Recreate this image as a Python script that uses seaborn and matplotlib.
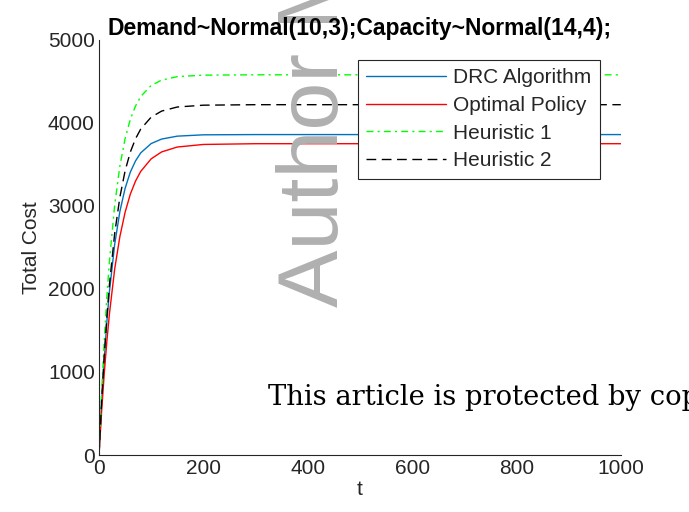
import numpy as np
import pandas as pd
import matplotlib
matplotlib.use("Agg")
import matplotlib.pyplot as plt
import seaborn as sns

# ---------------------------------------------------------------------------
# Data (total cost over time t)
# ---------------------------------------------------------------------------
t_values = [0, 5, 10, 15, 20, 30, 40, 50, 60, 70, 80, 100, 120, 150, 200,
            300, 400, 500, 600, 700, 800, 900, 1000]

drc_cost = [0, 633, 1158, 1602, 1969, 2536, 2934, 3212, 3408, 3543, 3640,
            3752, 3806, 3841, 3857, 3860, 3860, 3860, 3860, 3860, 3860, 3860, 3860]
optimal_cost = [0, 528, 978, 1368, 1702, 2239, 2632, 2924, 3142, 3300, 3417,
                3568, 3651, 3710, 3741, 3750, 3750, 3750, 3750, 3750, 3750, 3750, 3750]
heuristic1_cost = [0, 751, 1374, 1901, 2336, 3009, 3481, 3811, 4044, 4204, 4319,
                   4452, 4516, 4558, 4576, 4580, 4580, 4580, 4580, 4580, 4580, 4580, 4580]
heuristic2_cost = [0, 648, 1194, 1659, 2054, 2667, 3106, 3423, 3649, 3810, 3927,
                   4070, 4143, 4192, 4214, 4220, 4220, 4220, 4220, 4220, 4220, 4220, 4220]

methods = ["DRC Algorithm", "Optimal Policy", "Heuristic 1", "Heuristic 2"]
series = [drc_cost, optimal_cost, heuristic1_cost, heuristic2_cost]

x_ticks = [0, 200, 400, 600, 800, 1000]
y_ticks = [0, 1000, 2000, 3000, 4000, 5000]

title_text = "Demand~Normal(10,3);Capacity~Normal(14,4);"
watermark_text = "Author Manuscript"
notice_text = "This article is protected by copyright. All rights reserved."

# long-form table for seaborn
df = pd.concat([pd.DataFrame({"t": t_values, "Total Cost": vals, "Method": name})
                for name, vals in zip(methods, series)], ignore_index=True)

palette = {"DRC Algorithm": "#0072BD", "Optimal Policy": "#FF0000",
           "Heuristic 1": "#00FF00", "Heuristic 2": "#000000"}
dashes = {"DRC Algorithm": "", "Optimal Policy": "",
          "Heuristic 1": (5, 3, 1.5, 3), "Heuristic 2": (7, 4)}

# ---------------------------------------------------------------------------
# Plot
# ---------------------------------------------------------------------------
sns.set_style("white")
plt.rcParams['font.family'] = ['Liberation Sans', 'DejaVu Sans']

fig = plt.figure(figsize=(6.89, 5.12), dpi=100)
ax = fig.add_axes([0.1437, 0.1113, 0.7573, 0.8107])

sns.lineplot(data=df, x="t", y="Total Cost", hue="Method", style="Method",
             hue_order=methods, style_order=methods,
             palette=palette, dashes=dashes, linewidth=1.0, ax=ax)

ax.set_xlim(0, 1000)
ax.set_ylim(0, 5000)
ax.set_xticks(x_ticks)
ax.set_yticks(y_ticks)
ax.tick_params(direction="in", length=4.5, width=0.8, colors="#262626",
               labelsize=15, pad=3)
for side in ["top", "right"]:
    ax.spines[side].set_visible(False)
for side in ["left", "bottom"]:
    ax.spines[side].set_color("#262626")
    ax.spines[side].set_linewidth(0.8)

ax.set_xlabel("t", fontsize=15, color="#262626", labelpad=1)
ax.set_ylabel("Total Cost", fontsize=15, color="#262626", labelpad=5)

leg = ax.legend(loc="upper right", bbox_to_anchor=(0.96, 0.952), borderaxespad=0,
                fontsize=15, handlelength=3.85, labelspacing=0.42, borderpad=0.4,
                handletextpad=0.33, fancybox=False, framealpha=1,
                edgecolor="#262626")
leg.get_frame().set_linewidth(0.8)

# watermark and copyright notice of the source page
fig.text(338 / 689, 1 - 307 / 512, watermark_text, rotation=90,
         rotation_mode="anchor", ha="left", va="baseline", fontsize=62,
         color="#b0b0b0", zorder=10)
fig.text(268 / 689, 1 - 405 / 512, notice_text, family="DejaVu Serif",
         fontsize=19.7, ha="left", va="baseline", color="black", zorder=10)

# title drawn above the watermark
fig.text(360 / 689, 1 - 28 / 512, title_text, fontsize=16.5, fontweight="bold",
         ha="center", va="center", color="black", zorder=11)

fig.savefig("out.png", dpi=100)
